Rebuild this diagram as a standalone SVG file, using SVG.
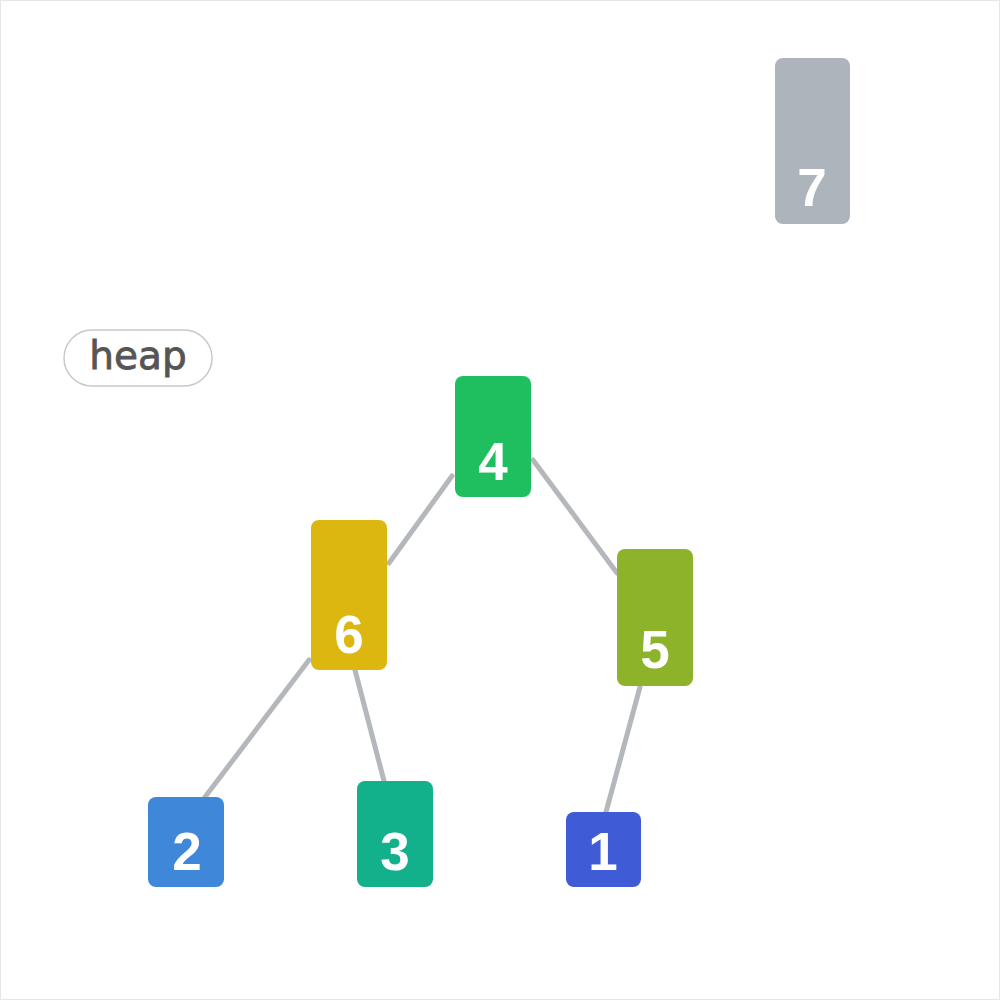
<svg xmlns="http://www.w3.org/2000/svg" width="1000" height="1000" viewBox="0 0 1000 1000">
  <style>
    .node rect { rx: 8; ry: 8; }
    .node text { font-family: "Liberation Sans", Arial, sans-serif; font-weight: bold; font-size: 53px; fill: #ffffff; text-anchor: middle; }
    .edge { stroke: #b4b7bb; stroke-width: 5; fill: none; stroke-linecap: round; }
    .tag rect { fill: #ffffff; stroke: #c8c8c8; stroke-width: 1.5; }
    .tag text { font-family: "DejaVu Sans", Verdana, sans-serif; font-size: 39px; fill: #555555; stroke: #555555; stroke-width: 0.8; text-anchor: middle; }
  </style>
  <rect x="0.5" y="0.5" width="999" height="999" fill="#ffffff" stroke="#e6e6e6" stroke-width="1"/>

  <g id="connectors">
    <line class="edge" x1="452" y1="476" x2="389" y2="563"/>
    <line class="edge" x1="533" y1="460" x2="617" y2="573"/>
    <line class="edge" x1="309" y1="660" x2="205" y2="797"/>
    <line class="edge" x1="355" y1="670" x2="384" y2="781"/>
    <line class="edge" x1="640" y1="687" x2="606" y2="812"/>
  </g>

  <g id="label-heap" class="tag">
    <rect x="64" y="330" width="148" height="56" rx="28" ry="28"/>
    <text x="138" y="369">heap</text>
  </g>

  <g id="node-7" class="node">
    <rect x="775" y="58" width="75" height="166" fill="#aeb4bb"/>
    <text x="812" y="206">7</text>
  </g>
  <g id="node-4" class="node">
    <rect x="455" y="376" width="76" height="121" fill="#1fbf5f"/>
    <text x="493" y="480">4</text>
  </g>
  <g id="node-6" class="node">
    <rect x="311" y="520" width="76" height="150" fill="#dcb70f"/>
    <text x="349" y="653">6</text>
  </g>
  <g id="node-5" class="node">
    <rect x="617" y="549" width="76" height="137" fill="#8db32a"/>
    <text x="655" y="668">5</text>
  </g>
  <g id="node-2" class="node">
    <rect x="148" y="797" width="76" height="90" fill="#3f87d8"/>
    <text x="187" y="870">2</text>
  </g>
  <g id="node-3" class="node">
    <rect x="357" y="781" width="76" height="106" fill="#13b08c"/>
    <text x="395" y="870">3</text>
  </g>
  <g id="node-1" class="node">
    <rect x="566" y="812" width="75" height="75" fill="#3f5bd6"/>
    <text x="603" y="870">1</text>
  </g>
</svg>
